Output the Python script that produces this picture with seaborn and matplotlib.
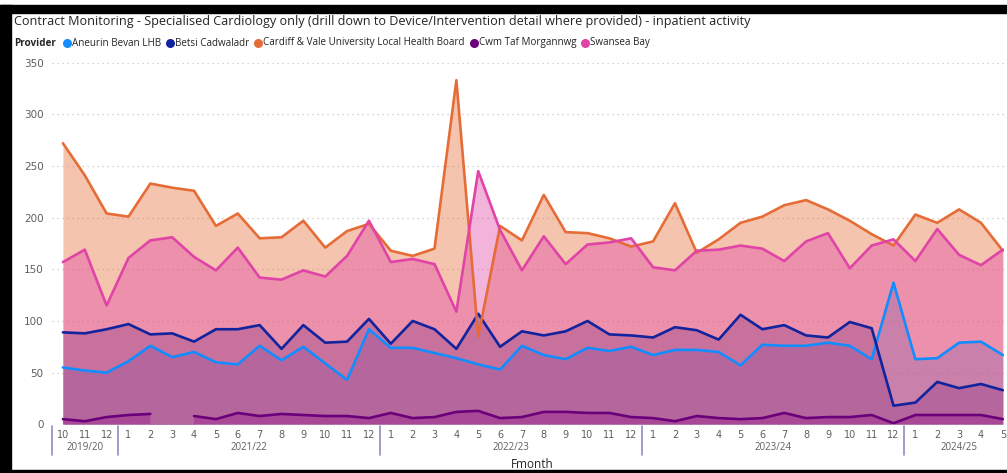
import numpy as np
import pandas as pd
import matplotlib
matplotlib.use("Agg")
import matplotlib.pyplot as plt
import matplotlib.transforms as mtransforms
from matplotlib.lines import Line2D
from matplotlib.patches import Rectangle
import seaborn as sns

# ---------------------------------------------------------------- data
fmonth = ["10", "11", "12",
          "1", "2", "3", "4", "5", "6", "7", "8", "9", "10", "11", "12",
          "1", "2", "3", "4", "5", "6", "7", "8", "9", "10", "11", "12",
          "1", "2", "3", "4", "5", "6", "7", "8", "9", "10", "11", "12",
          "1", "2", "3", "4", "5"]
fiscal_years = ["2019/20", "2021/22", "2022/23", "2023/24", "2024/25"]
months_per_year = [3, 12, 12, 12, 5]

providers = ["Aneurin Bevan LHB", "Betsi Cadwaladr",
             "Cardiff & Vale University Local Health Board",
             "Cwm Taf Morgannwg", "Swansea Bay"]

aneurin_bevan = [55, 52, 50, 61, 76, 65, 70, 60, 58, 76, 62,
                 75, 59, 43, 92, 74, 74, 69, 64, 58, 53, 76,
                 67, 63, 74, 71, 75, 67, 72, 72, 70, 57,
                 77, 76, 76, 79, 76, 63, 137, 63, 64, 79, 80, 67]
betsi_cadwaladr = [89, 88, 92, 97, 87, 88, 80, 92, 92, 96, 73,
                   96, 79, 80, 102, 78, 100, 92, 73, 107, 75, 90,
                   86, 90, 100, 87, 86, 84, 94, 91, 82, 106,
                   92, 96, 86, 84, 99, 93, 18, 21, 41, 35, 39, 33]
cardiff_vale = [272, 241, 204, 201, 233, 229, 226, 192, 204, 180, 181,
                197, 171, 187, 194, 168, 163, 170, 333, 85, 192, 178,
                222, 186, 185, 180, 172, 177, 214, 166, 179, 195,
                201, 212, 217, 208, 197, 184, 173, 203, 195, 208, 195, 168]
cwm_taf = [5, 3, 7, 9, 10, np.nan, 8, 5, 11, 8, 10,
           9, 8, 8, 6, 11, 6, 7, 12, 13, 6, 7,
           12, 12, 11, 11, 7, 6, 3, 8, 6, 5,
           6, 11, 6, 7, 7, 9, 1, 9, 9, 9, 9, 5]
swansea_bay = [157, 169, 115, 161, 178, 181, 162, 149, 171, 142, 140,
               149, 143, 163, 197, 157, 160, 155, 109, 245, 188, 149,
               182, 155, 174, 176, 180, 152, 149, 168, 169, 173,
               170, 158, 177, 185, 151, 173, 179, 158, 189, 164, 154, 169]

series = dict(zip(providers, [aneurin_bevan, betsi_cadwaladr, cardiff_vale,
                              cwm_taf, swansea_bay]))
colors = ["#118DFF", "#12239E", "#E66C37", "#6B007B", "#E044A7"]
palette = dict(zip(providers, colors))

# long table; a new segment starts after every missing month
idx = np.arange(len(fmonth))
frames = []
for name, vals in series.items():
    v = np.asarray(vals, dtype=float)
    seg = np.cumsum(np.isnan(v))
    frames.append(pd.DataFrame({"pos": idx, "Activity": v,
                                "Provider": name, "segment": seg}))
df = pd.concat(frames, ignore_index=True)

# ---------------------------------------------------------------- figure
W, H = 1007, 473
fig = plt.figure(figsize=(W / 100, H / 100), dpi=100)
fig.patch.set_facecolor("white")


def fx(px):
    return px / W


def fy(py):
    return 1 - py / H


plot_left, plot_right, plot_bottom, plot_top = 52, 1005, 424.3, 57.5
ax = fig.add_axes([fx(plot_left), fy(plot_bottom),
                   (plot_right - plot_left) / W, (plot_bottom - plot_top) / H])
ax.set_facecolor("white")

sns.set_style("white")
plt.rcParams["font.family"] = ["Open Sans", "DejaVu Sans"]

text_dark = "#252423"
text_grey = "#605E5C"

# filled areas, one per provider, overlapping
for name in providers:
    v = np.asarray(series[name], dtype=float)
    ax.fill_between(idx, v, 0, color=palette[name], alpha=0.4,
                    linewidth=0, zorder=1)

sns.lineplot(data=df.dropna(), x="pos", y="Activity", hue="Provider",
             units="segment", estimator=None, sort=False,
             palette=palette, hue_order=providers, linewidth=1.9,
             legend=False, ax=ax, zorder=3)

ax.set_xlim(-0.5, 43.1)
ax.set_ylim(0, 355)
ax.set_yticks([0, 50, 100, 150, 200, 250, 300, 350])
ax.tick_params(axis="y", length=0, pad=6, labelsize=7.5, labelcolor=text_grey)
ax.yaxis.grid(True, linestyle=(0, (1, 3)), color="#C8C6C4", linewidth=0.9)
ax.set_axisbelow(True)
for s in ax.spines.values():
    s.set_visible(False)

ax.set_xticks(idx)
ax.set_xticklabels(fmonth)
ax.tick_params(axis="x", length=0, pad=4, labelsize=7, labelcolor=text_grey)
ax.set_xlabel("")
ax.set_ylabel("Activity", fontsize=8.5, color=text_dark, labelpad=8)
fig.text(fx((plot_left + plot_right) / 2 + 4), fy(464), "Fmonth",
         fontsize=8.5, color=text_dark, ha="center", va="center")

# fiscal-year band under the month labels
trans = mtransforms.blended_transform_factory(ax.transData, ax.transAxes)
sep_color = "#8C8CC4"
start = 0
bounds = [start - 0.5]
for fy_label, n in zip(fiscal_years, months_per_year):
    centre = start + (n - 1) / 2
    ax.text(centre, -0.062, fy_label, transform=trans, ha="center",
            va="center", fontsize=7, color=text_grey)
    start += n
    bounds.append(start - 0.5)
for b in bounds[:-1]:
    ax.add_line(Line2D([b, b], [-0.005, -0.085], transform=trans,
                       color=sep_color, linewidth=1.2, clip_on=False))

# title
fig.text(fx(14), fy(21.5),
         "Contract Monitoring - Specialised Cardiology only (drill down to "
         "Device/Intervention detail where provided) - inpatient activity",
         fontsize=9.1, color=text_dark, va="center", ha="left")

# legend row
fig.canvas.draw()
renderer = fig.canvas.get_renderer()
leg_y = fy(43)
t = fig.text(fx(14), leg_y, "Provider", fontsize=7.1, fontweight="bold",
             color=text_dark, va="center", ha="left")
cursor = 14 + t.get_window_extent(renderer).width + 5
for name in providers:
    fig.add_artist(Line2D([fx(cursor + 6)], [leg_y], marker="o",
                          markersize=6.5, color=palette[name],
                          markeredgewidth=0, transform=fig.transFigure))
    t = fig.text(fx(cursor + 11), leg_y, name, fontsize=7.1,
                 color=text_dark, va="center", ha="left")
    cursor += 11 + t.get_window_extent(renderer).width + 3

# dark frame of the report page
frame_kw = dict(transform=fig.transFigure, color="black", zorder=10)
fig.patches.append(Rectangle((0, fy(13)), 1, 8 / H, **frame_kw))
fig.patches.append(Rectangle((0, 0), fx(11), fy(5), **frame_kw))
fig.patches.append(Rectangle((0, 0), 1, 3 / H, **frame_kw))

fig.savefig("out.png", dpi=100)
